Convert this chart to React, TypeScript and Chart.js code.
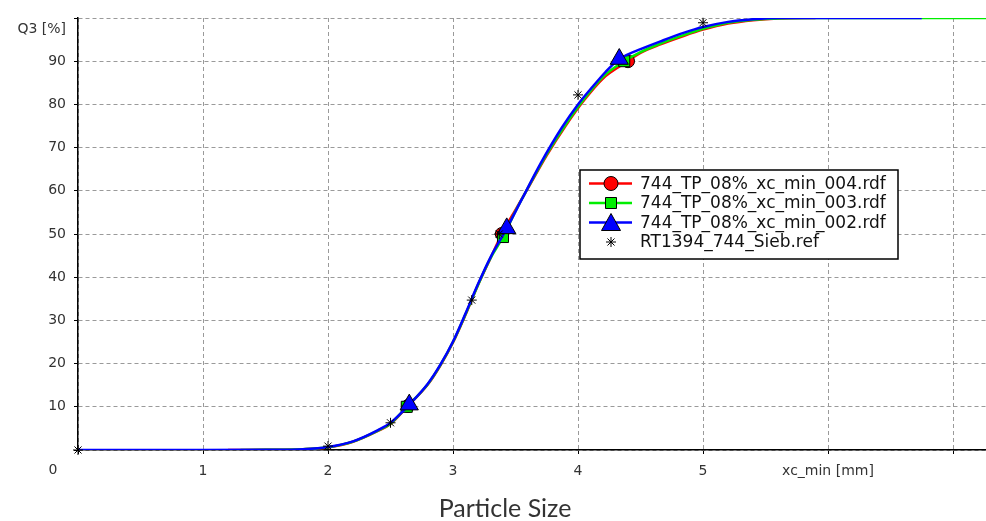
import React, { useEffect, useRef } from 'react';
import { Chart, registerables } from 'chart.js';

Chart.register(...registerables);

// ---- data ----
const seriesNames = [
  '744_TP_08%_xc_min_004.rdf',
  '744_TP_08%_xc_min_003.rdf',
  '744_TP_08%_xc_min_002.rdf',
  'RT1394_744_Sieb.ref',
];

const xRed = [1.2, 1.5, 1.8, 2.0, 2.2, 2.4, 2.5, 2.64, 2.8, 2.9, 3.0, 3.1, 3.2, 3.3, 3.39, 3.5, 3.6, 3.75, 3.9, 4.05, 4.2, 4.4, 4.5, 4.66, 4.85, 5.0, 5.2, 5.4, 5.6, 5.9];
const q3Red = [0, 0.05, 0.2, 0.6, 1.9, 4.4, 6.0, 10.2, 15.2, 19.6, 24.9, 31.3, 38.2, 44.4, 50.0, 55.6, 60.6, 68.2, 75.0, 81.0, 86.0, 90.0, 91.9, 93.9, 95.9, 97.3, 98.7, 99.5, 99.9, 100];
const markRed = [7, 14, 21];

const xGreen = [1.3, 1.5, 1.8, 2.0, 2.2, 2.4, 2.5, 2.63, 2.8, 2.9, 3.0, 3.1, 3.2, 3.3, 3.4, 3.5, 3.6, 3.75, 3.9, 4.05, 4.2, 4.37, 4.5, 4.66, 4.85, 5.0, 5.2, 5.4, 5.6, 5.9, 7.3];
const q3Green = [0, 0.05, 0.2, 0.65, 1.95, 4.5, 6.1, 10.0, 15.3, 19.7, 25.0, 31.4, 38.2, 44.4, 49.3, 55.3, 60.7, 68.5, 75.3, 81.3, 86.4, 90.0, 92.1, 94.1, 96.1, 97.5, 98.9, 99.6, 99.9, 100, 100];
const markGreen = [7, 14, 21];

const xBlue = [0, 1.0, 1.5, 1.8, 2.0, 2.2, 2.4, 2.5, 2.65, 2.8, 2.9, 3.0, 3.1, 3.2, 3.3, 3.43, 3.55, 3.7, 3.87, 4.0, 4.12, 4.22, 4.33, 4.4, 4.5, 4.66, 4.85, 5.0, 5.2, 5.4, 5.6, 6.75];
const q3Blue = [0, 0, 0.05, 0.2, 0.7, 2.0, 4.6, 6.3, 10.5, 15.4, 19.8, 25.1, 31.6, 38.4, 44.6, 51.3, 58.0, 66.3, 74.6, 80.0, 84.2, 87.5, 90.5, 91.6, 92.8, 94.6, 96.6, 97.9, 99.1, 99.7, 100, 100];
const markBlue = [8, 15, 22];

const xRef = [0, 2.0, 2.5, 3.15, 3.37, 4.0, 5.0];
const q3Ref = [0, 0.9, 6.3, 34.7, 50.0, 82.2, 98.9];

const xTickUnitLabel = 'xc_min [mm]';
const yTickUnitLabel = 'Q3 [%]';
const xAxisTitle = 'Particle Size';
const originLabel = '0';

const toPoints = (xs: number[], ys: number[]) => xs.map((x, i) => ({ x, y: ys[i] }));

const TICK_FONT = { family: 'DejaVu Sans', size: 14 };
const TEXT_COLOR = '#333';

function drawMarker(ctx: CanvasRenderingContext2D, style: string, cx: number, cy: number, fill: string) {
  ctx.save();
  ctx.fillStyle = fill;
  ctx.strokeStyle = '#000';
  ctx.lineWidth = 1;
  ctx.beginPath();
  if (style === 'circle') {
    ctx.arc(cx, cy, 7, 0, Math.PI * 2);
    ctx.fill();
    ctx.stroke();
  } else if (style === 'rect') {
    ctx.rect(cx - 5.5, cy - 5.5, 11, 11);
    ctx.fill();
    ctx.stroke();
  } else if (style === 'triangle') {
    ctx.moveTo(cx, cy - 9);
    ctx.lineTo(cx + 9.5, cy + 8);
    ctx.lineTo(cx - 9.5, cy + 8);
    ctx.closePath();
    ctx.fill();
    ctx.stroke();
  } else {
    const r = 5;
    for (let k = 0; k < 4; k++) {
      const a = (k * Math.PI) / 4;
      ctx.moveTo(cx - Math.cos(a) * r, cy - Math.sin(a) * r);
      ctx.lineTo(cx + Math.cos(a) * r, cy + Math.sin(a) * r);
    }
    ctx.stroke();
  }
  ctx.restore();
}

const extrasPlugin = {
  id: 'extras',
  afterDatasetsDraw(chart: any) {
    const { ctx, chartArea } = chart;
    // legend box
    const bx = chartArea.left + 502;
    const by = chartArea.top + 152;
    const bw = 318;
    const bh = 89;
    ctx.save();
    ctx.fillStyle = '#fff';
    ctx.fillRect(bx, by, bw, bh);
    ctx.strokeStyle = '#000';
    ctx.lineWidth = 1.5;
    ctx.strokeRect(bx, by, bw, bh);
    const rowH = 19.5;
    chart.data.datasets.forEach((ds: any, i: number) => {
      const cy = by + 13.5 + i * rowH;
      if (ds.showLine !== false) {
        ctx.strokeStyle = ds.borderColor;
        ctx.lineWidth = 2.5;
        ctx.beginPath();
        ctx.moveTo(bx + 9, cy);
        ctx.lineTo(bx + 52, cy);
        ctx.stroke();
      }
      drawMarker(ctx, ds.pointStyle, bx + 31, cy, ds.pointBackgroundColor || '#000');
      ctx.fillStyle = '#111';
      ctx.font = '17px "DejaVu Sans"';
      ctx.textAlign = 'left';
      ctx.textBaseline = 'middle';
      ctx.fillText(ds.label, bx + 60, cy + 1);
    });
    ctx.restore();
  },
  afterDraw(chart: any) {
    const { ctx, chartArea } = chart;
    ctx.save();
    ctx.fillStyle = TEXT_COLOR;
    ctx.font = `${TICK_FONT.size}px "${TICK_FONT.family}"`;
    ctx.textAlign = 'right';
    ctx.textBaseline = 'middle';
    ctx.fillText(yTickUnitLabel, chartArea.left - 12, chartArea.top + 11);
    ctx.textAlign = 'center';
    ctx.fillText(originLabel, chartArea.left - 25, chartArea.bottom + 20);
    ctx.font = '25px Lato';
    ctx.fillStyle = '#333';
    ctx.textBaseline = 'alphabetic';
    ctx.fillText(xAxisTitle, chartArea.left + 427, chart.height - 4);
    ctx.restore();
  },
};

export default function App() {
  const ref = useRef<HTMLCanvasElement>(null);
  useEffect(() => {
    if (!ref.current) return;
    const lineBase = {
      showLine: true,
      borderWidth: 2.5,
      pointBorderColor: '#000',
      pointBorderWidth: 1,
      cubicInterpolationMode: 'monotone' as const,
    };
    const chart = new Chart(ref.current, {
      type: 'line',
      data: {
        datasets: [
          {
            ...lineBase,
            label: seriesNames[0],
            data: toPoints(xRed, q3Red),
            borderColor: '#ff0000',
            backgroundColor: '#ff0000',
            pointBackgroundColor: '#ff0000',
            pointStyle: 'circle',
            pointRadius: (c: any) => (markRed.includes(c.dataIndex) ? 6.5 : 0),
            order: 3,
          },
          {
            ...lineBase,
            label: seriesNames[1],
            data: toPoints(xGreen, q3Green),
            borderColor: '#00ee00',
            backgroundColor: '#00ee00',
            pointBackgroundColor: '#00ee00',
            pointStyle: 'rect',
            pointRadius: (c: any) => (markGreen.includes(c.dataIndex) ? 7.8 : 0),
            order: 2,
          },
          {
            ...lineBase,
            label: seriesNames[2],
            data: toPoints(xBlue, q3Blue),
            borderColor: '#0000ff',
            backgroundColor: '#0000ff',
            pointBackgroundColor: '#0000ff',
            pointStyle: 'triangle',
            pointRadius: (c: any) => (markBlue.includes(c.dataIndex) ? 10.5 : 0),
            order: 1,
          },
          {
            label: seriesNames[3],
            data: toPoints(xRef, q3Ref),
            showLine: false,
            borderColor: '#000',
            backgroundColor: '#000',
            pointBackgroundColor: '#000',
            pointBorderColor: '#000',
            pointBorderWidth: 1,
            pointStyle: 'star',
            pointRadius: 5,
            clip: false as any,
            order: 0,
          },
        ] as any,
      },
      options: {
        animation: false,
        responsive: false,
        devicePixelRatio: 1,
        layout: { padding: { top: 18, left: 0, right: 0, bottom: 0 }, autoPadding: false } as any,
        plugins: { legend: { display: false }, tooltip: { enabled: false } },
        scales: {
          x: {
            type: 'linear',
            min: 0,
            max: 7.264,
            ticks: {
              stepSize: 1,
              includeBounds: false,
              autoSkip: false,
              maxRotation: 0,
              color: TEXT_COLOR,
              font: TICK_FONT,
              padding: 9,
              callback: (v: any) => {
                const n = Number(v);
                if (n === 0 || n === 7) return '';
                if (n === 6) return xTickUnitLabel;
                return String(n);
              },
            },
            grid: { color: '#9a9a9a', lineWidth: 1, tickColor: '#000', tickLength: 4, tickBorderDash: [] },
            border: { color: '#000', width: 1.5, dash: [4, 3] },
            afterFit: (s: any) => {
              s.height = 71;
            },
          },
          y: {
            type: 'linear',
            min: 0,
            max: 100,
            ticks: {
              stepSize: 10,
              color: TEXT_COLOR,
              font: TICK_FONT,
              padding: 8,
              callback: (v: any) => {
                const n = Number(v);
                if (n === 0 || n === 100) return '';
                return String(n);
              },
            },
            grid: { color: '#9a9a9a', lineWidth: 1, tickColor: '#000', tickLength: 4, tickBorderDash: [] },
            border: { color: '#000', width: 1.5, dash: [4, 3] },
            afterFit: (s: any) => {
              s.width = 78;
            },
          },
        } as any,
      },
      plugins: [extrasPlugin],
    });
    return () => chart.destroy();
  }, []);
  return (
    <div style={{ position: 'fixed', left: 0, top: 0, width: 986, height: 521, background: '#fff' }}>
      <canvas ref={ref} width={986} height={521} />
    </div>
  );
}
